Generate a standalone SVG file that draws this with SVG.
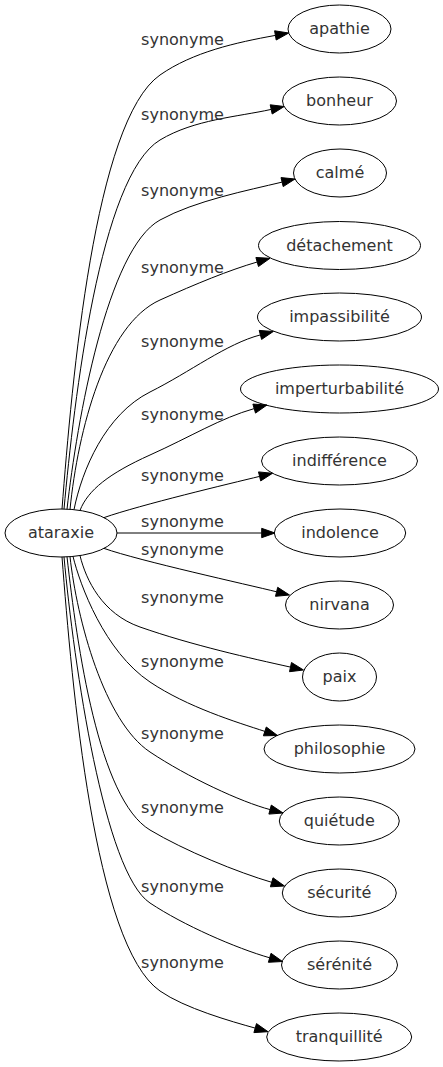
<svg xmlns="http://www.w3.org/2000/svg" width="443" height="1067" viewBox="0 0 443 1067">
<style>
.node ellipse{fill:none;stroke:#000;stroke-width:1}
.node text,.lbl{font-family:"DejaVu Sans",sans-serif;font-size:16px;fill:#333;text-anchor:middle}
.edges path{fill:none;stroke:#000;stroke-width:1}
.edges polygon{fill:#000;stroke:#000;stroke-width:1}
</style>
<rect width="443" height="1067" fill="#fff"/>
<g class="edges" id="edges">
<path d="M62,509.1 C72,380 94.5,120.8 160,75 C192.8,52.1 236,42.5 275.4,35.4"/>
<polygon points="288.7,33 276.2,40 274.6,30.8"/>
<path d="M64,509.1 C74,400 100,176 160,140 C194.3,119.4 237,117 271.2,109.4"/>
<polygon points="284.2,106.5 272.2,114 270.2,104.8"/>
<path d="M67,509.3 C77,420 107.4,248.9 160,220 C195,200.7 248.1,190.3 282.1,182.1"/>
<polygon points="295,179 283.2,186.6 281,177.6"/>
<path d="M70,509.4 C78,430 105.3,324.6 160,300 C196.5,283.6 228.4,270.4 257.2,262"/>
<polygon points="270,258.3 258.5,266.5 255.9,257.5"/>
<path d="M74,509.6 C82,470 105.3,414.4 150,392 C190.2,371.9 226.5,343.7 260.4,334.9"/>
<polygon points="273.3,331.5 261.6,339.4 259.2,330.4"/>
<path d="M80,510.4 C88,490 109,473.5 150,455 C191,436.6 220.5,418.1 254.2,408.6"/>
<polygon points="267,405 255.5,413.1 252.9,404.1"/>
<path d="M104,517.6 C140,505 230.4,483.4 259.6,476.4"/>
<polygon points="272.5,473.3 260.7,480.9 258.5,471.9"/>
<path d="M117,533 L261.7,533"/>
<polygon points="275,533 261.7,537.67 261.7,528.33"/>
<path d="M104,548.4 C140,561 247.5,584.6 276.6,591.8"/>
<polygon points="289.5,595 275.5,596.3 277.7,587.3"/>
<path d="M80,555.6 C86,580 102.2,613.8 140,627 C191.9,645.2 251.5,658.5 290.5,667.1"/>
<polygon points="303.5,670 289.5,671.7 291.5,662.5"/>
<path d="M73,556.4 C80,585 104.4,651.4 150,682 C187.4,707.1 236.4,722.1 264.9,731.4"/>
<polygon points="277.5,735.5 263.4,735.8 266.3,727"/>
<path d="M70,556.7 C77,620 104.2,721.5 150,752 C187.4,777 241.1,802 270.1,809.6"/>
<polygon points="283,813 268.9,814.1 271.3,805.1"/>
<path d="M67,556.7 C77,646 98.6,799.2 150,830 C184.3,850.6 238.1,872.5 271.7,882.3"/>
<polygon points="284.5,886 270.4,886.8 273,877.8"/>
<path d="M64,556.9 C74,666 104.2,872.5 150,903 C183.3,925.2 236.1,948.2 269.7,957.8"/>
<polygon points="282.5,961.5 268.4,962.3 271,953.3"/>
<path d="M62,556.9 C72,686 94,945 160,991 C184.6,1008.2 231.1,1021.4 255.2,1028.1"/>
<polygon points="268,1031.7 253.9,1032.6 256.5,1023.6"/>
</g>
<g id="edge-labels">
<text class="lbl" x="182.5" y="45">synonyme</text>
<text class="lbl" x="182.5" y="120">synonyme</text>
<text class="lbl" x="182.5" y="196">synonyme</text>
<text class="lbl" x="182.5" y="273">synonyme</text>
<text class="lbl" x="182.5" y="347">synonyme</text>
<text class="lbl" x="182.5" y="420">synonyme</text>
<text class="lbl" x="182.5" y="481">synonyme</text>
<text class="lbl" x="182.5" y="527">synonyme</text>
<text class="lbl" x="182.5" y="555">synonyme</text>
<text class="lbl" x="182.5" y="603">synonyme</text>
<text class="lbl" x="182.5" y="667">synonyme</text>
<text class="lbl" x="182.5" y="739">synonyme</text>
<text class="lbl" x="182.5" y="813">synonyme</text>
<text class="lbl" x="182.5" y="892">synonyme</text>
<text class="lbl" x="182.5" y="968">synonyme</text>
</g>
<g class="node" id="n-ataraxie"><ellipse cx="61" cy="533" rx="56" ry="24"/><text x="61" y="538.3">ataraxie</text></g>
<g class="node" id="n-apathie"><ellipse cx="339.5" cy="29" rx="51.5" ry="24"/><text x="339.5" y="34.3">apathie</text></g>
<g class="node" id="n-bonheur"><ellipse cx="339.5" cy="101" rx="57" ry="24"/><text x="339.5" y="106.3">bonheur</text></g>
<g class="node" id="n-calme"><ellipse cx="340" cy="173" rx="46.5" ry="24"/><text x="340" y="178.3">calmé</text></g>
<g class="node" id="n-detachement"><ellipse cx="339.5" cy="245.5" rx="81" ry="24"/><text x="339.5" y="250.8">détachement</text></g>
<g class="node" id="n-impassibilite"><ellipse cx="339.5" cy="317" rx="82" ry="24"/><text x="339.5" y="322.3">impassibilité</text></g>
<g class="node" id="n-imperturbabilite"><ellipse cx="339.5" cy="389" rx="99" ry="24"/><text x="339.5" y="394.3">imperturbabilité</text></g>
<g class="node" id="n-indifference"><ellipse cx="339.5" cy="461" rx="78" ry="24"/><text x="339.5" y="466.3">indifférence</text></g>
<g class="node" id="n-indolence"><ellipse cx="340" cy="533" rx="65.7" ry="24"/><text x="340" y="538.3">indolence</text></g>
<g class="node" id="n-nirvana"><ellipse cx="339.5" cy="605" rx="54" ry="24"/><text x="339.5" y="610.3">nirvana</text></g>
<g class="node" id="n-paix"><ellipse cx="339.5" cy="677" rx="37" ry="24"/><text x="339.5" y="682.3">paix</text></g>
<g class="node" id="n-philosophie"><ellipse cx="339.5" cy="749" rx="75.5" ry="24"/><text x="339.5" y="754.3">philosophie</text></g>
<g class="node" id="n-quietude"><ellipse cx="339.3" cy="821" rx="60" ry="24"/><text x="339.3" y="826.3">quiétude</text></g>
<g class="node" id="n-securite"><ellipse cx="339.3" cy="893" rx="57" ry="24"/><text x="339.3" y="898.3">sécurité</text></g>
<g class="node" id="n-serenite"><ellipse cx="339.5" cy="965" rx="58" ry="24"/><text x="339.5" y="970.3">sérénité</text></g>
<g class="node" id="n-tranquillite"><ellipse cx="339.2" cy="1037" rx="72.5" ry="24"/><text x="339.2" y="1042.3">tranquillité</text></g>
</svg>
